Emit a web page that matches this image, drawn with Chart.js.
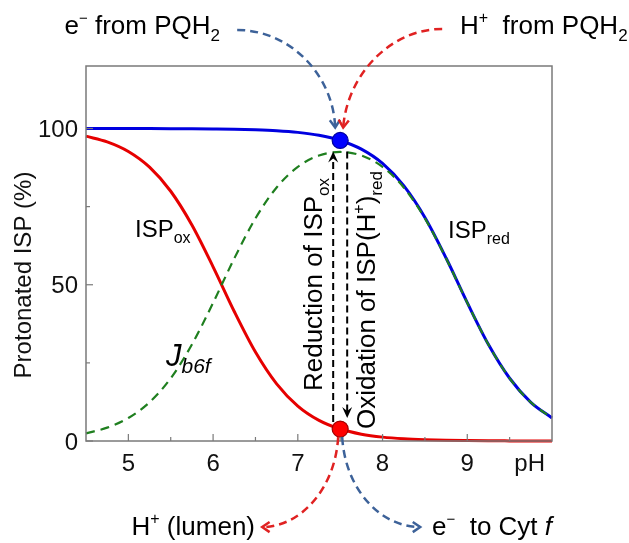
<!DOCTYPE html>
<html>
<head>
<meta charset="utf-8">
<script src="https://cdn.jsdelivr.net/npm/chart.js@4.4.0/dist/chart.umd.min.js"></script>
<style>
  html, body { margin: 0; padding: 0; background: #ffffff; }
  #wrap { width: 629px; height: 543px; }
</style>
</head>
<body>
<div id="wrap"><canvas id="c" width="629" height="543"></canvas></div>
<script>
// ---- data ----
const pH = [4.5, 4.75, 5.0, 5.25, 5.5, 5.75, 6.0, 6.25, 6.5, 6.75, 7.0, 7.25, 7.5, 7.75, 8.0, 8.25, 8.5, 8.75, 9.0, 9.25, 9.5, 9.75, 10.0];
const ispOx = [97.55, 95.72, 92.64, 87.62, 79.92, 69.12, 55.73, 41.45, 28.47, 18.29, 11.18, 6.61, 3.83, 2.19, 1.24, 0.70, 0.40, 0.22, 0.13, 0.07, 0.04, 0.02, 0.01];
const ispRed = [100.0, 99.99, 99.99, 99.98, 99.96, 99.93, 99.87, 99.78, 99.60, 99.30, 98.76, 97.81, 96.17, 93.39, 88.82, 81.70, 71.53, 58.55, 44.27, 30.88, 20.08, 12.38, 7.36];
const jb6f = [2.45, 4.28, 7.36, 12.38, 20.07, 30.86, 44.21, 58.42, 71.24, 81.14, 87.72, 91.35, 92.49, 91.35, 87.72, 81.13, 71.24, 58.42, 44.21, 30.86, 20.07, 12.38, 7.36];
const dotPH = [7.5];
const dotBlueVal = [96.17];
const dotRedVal = [3.83];
const xMajorTicks = [5, 6, 7, 8, 9];
const xMinorTicks = [5.5, 6.5, 7.5, 8.5, 9.5];
const yMajorTicks = [0, 50, 100];
const yMinorTicks = [25, 75];

const FAM = '"Liberation Sans", Arial, Helvetica, sans-serif';

function pts(xs, ys) { return xs.map((v, i) => ({ x: v, y: ys[i] })); }

function fontOf(s) { return (s.st || '') + ' ' + s.f + 'px ' + FAM; }
function drawRich(ctx, segs, x, y, align) {
  let w = 0;
  segs.forEach(s => { ctx.font = fontOf(s); s.w = ctx.measureText(s.t).width; w += s.w; });
  let cx = align === 'center' ? x - w / 2 : (align === 'right' ? x - w : x);
  ctx.textAlign = 'left';
  segs.forEach(s => { ctx.font = fontOf(s); ctx.fillText(s.t, cx, y + (s.dy || 0)); cx += s.w; });
}
function bez(ctx, p0, c1, c2, p3, color) {
  ctx.save();
  ctx.strokeStyle = color; ctx.lineWidth = 2.5; ctx.setLineDash([8, 5]);
  ctx.beginPath(); ctx.moveTo(p0[0], p0[1]);
  ctx.bezierCurveTo(c1[0], c1[1], c2[0], c2[1], p3[0], p3[1]);
  ctx.stroke();
  ctx.setLineDash([]);
  const ang = Math.atan2(p3[1] - c2[1], p3[0] - c2[0]);
  const L = 9, sp = 0.6;
  ctx.beginPath();
  ctx.moveTo(p3[0] - L * Math.cos(ang - sp), p3[1] - L * Math.sin(ang - sp));
  ctx.lineTo(p3[0], p3[1]);
  ctx.lineTo(p3[0] - L * Math.cos(ang + sp), p3[1] - L * Math.sin(ang + sp));
  ctx.stroke();
  ctx.restore();
}
function vArrow(ctx, x, y0, y1) {
  const dir = y1 > y0 ? 1 : -1;
  ctx.save();
  ctx.strokeStyle = '#000'; ctx.fillStyle = '#000'; ctx.lineWidth = 2;
  ctx.setLineDash([7, 4]);
  ctx.beginPath(); ctx.moveTo(x, y0); ctx.lineTo(x, y1 - dir * 6); ctx.stroke();
  ctx.setLineDash([]);
  ctx.beginPath();
  ctx.moveTo(x, y1);
  ctx.lineTo(x - 5, y1 - dir * 11);
  ctx.lineTo(x, y1 - dir * 7);
  ctx.lineTo(x + 5, y1 - dir * 11);
  ctx.closePath(); ctx.fill();
  ctx.restore();
}

const decor = {
  id: 'decor',
  afterDraw(chart) {
    const { ctx, chartArea: a, scales: { x, y } } = chart;
    ctx.save();
    ctx.strokeStyle = '#7a7a7a'; ctx.lineWidth = 1.5;
    ctx.strokeRect(a.left, a.top, a.right - a.left, a.bottom - a.top);
    ctx.lineWidth = 1.2;
    const ln = (x0, y0, x1, y1) => { ctx.beginPath(); ctx.moveTo(x0, y0); ctx.lineTo(x1, y1); ctx.stroke(); };
    xMajorTicks.forEach(v => { const p = x.getPixelForValue(v); ln(p, a.bottom, p, a.bottom - 7); });
    xMinorTicks.forEach(v => { const p = x.getPixelForValue(v); ln(p, a.bottom, p, a.bottom - 4); });
    yMajorTicks.forEach(v => { const p = y.getPixelForValue(v); ln(a.left, p, a.left + 7, p); });
    yMinorTicks.forEach(v => { const p = y.getPixelForValue(v); ln(a.left, p, a.left + 4, p); });
    ctx.fillStyle = '#111';
    ctx.font = '24px ' + FAM;
    ctx.textBaseline = 'alphabetic';
    ctx.textAlign = 'center';
    xMajorTicks.forEach(v => ctx.fillText(String(v), x.getPixelForValue(v), a.bottom + 30));
    ctx.textAlign = 'right';
    ctx.fillText('pH', a.right - 7, a.bottom + 30);
    yMajorTicks.forEach(v => ctx.fillText(String(v), a.left - 8, y.getPixelForValue(v) + 8.5));
    ctx.save();
    ctx.translate(24, 275); ctx.rotate(-Math.PI / 2);
    ctx.textAlign = 'center'; ctx.textBaseline = 'middle';
    ctx.font = '24px ' + FAM;
    ctx.fillText('Protonated ISP (%)', 0, 0);
    ctx.restore();

    ctx.textBaseline = 'alphabetic';
    ctx.fillStyle = '#000';
    drawRich(ctx, [{ t: 'ISP', f: 24 }, { t: 'ox', f: 16, dy: 6 }], 135, 237, 'left');
    drawRich(ctx, [{ t: 'ISP', f: 24 }, { t: 'red', f: 16, dy: 6 }], 448, 238, 'left');
    drawRich(ctx, [{ t: 'J', f: 31, st: 'italic' }, { t: 'b6f', f: 21, dy: 7, st: 'italic' }], 166, 366, 'left');

    const bx = x.getPixelForValue(dotPH[0]);
    const byB = y.getPixelForValue(dotBlueVal[0]);
    const byR = y.getPixelForValue(dotRedVal[0]);

    vArrow(ctx, bx - 7, byR - 7, byB + 11);
    vArrow(ctx, bx + 7, byB + 11, byR - 11);

    ctx.save();
    ctx.translate(bx - 18, 284.5); ctx.rotate(-Math.PI / 2);
    drawRich(ctx, [{ t: 'Reduction of ISP', f: 26 }, { t: 'ox', f: 17, dy: 7 }], 0, 0, 'center');
    ctx.restore();
    ctx.save();
    ctx.translate(bx + 35, 300); ctx.rotate(-Math.PI / 2);
    drawRich(ctx, [{ t: 'Oxidation of ISP(H', f: 26 }, { t: '+', f: 16, dy: -11 }, { t: ')', f: 26 }, { t: 'red', f: 17, dy: 7 }], 0, 0, 'center');
    ctx.restore();

    bez(ctx, [bx - 103, a.top - 36], [bx - 50, a.top - 36], [bx - 7, a.top + 9], [bx - 5, byB - 13], '#3d6299');
    bez(ctx, [bx + 102, a.top - 37], [bx + 50, a.top - 37], [bx + 7, a.top + 9], [bx + 3, byB - 13], '#e02222');
    bez(ctx, [bx - 2, byR + 8], [bx - 5, byR + 60], [bx - 40, byR + 98], [bx - 78, byR + 98], '#e02222');
    bez(ctx, [bx + 2, byR + 8], [bx + 5, byR + 60], [bx + 40, byR + 98], [bx + 80, byR + 98], '#3d6299');

    ctx.fillStyle = '#000';
    drawRich(ctx, [{ t: 'e', f: 26 }, { t: '\u2212', f: 15, dy: -11 }, { t: ' from PQH', f: 26 }, { t: '2', f: 17, dy: 7 }], 220, 34, 'right');
    drawRich(ctx, [{ t: 'H', f: 26 }, { t: '+', f: 16, dy: -11 }, { t: '  from PQH', f: 26 }, { t: '2', f: 17, dy: 7 }], 460, 34, 'left');
    drawRich(ctx, [{ t: 'H', f: 26 }, { t: '+', f: 16, dy: -11 }, { t: ' (lumen)', f: 26 }], 255, 535, 'right');
    drawRich(ctx, [{ t: 'e', f: 26 }, { t: '\u2212', f: 15, dy: -11 }, { t: '  to Cyt ', f: 26 }, { t: 'f', f: 26, st: 'italic' }], 432, 535, 'left');
    ctx.restore();
  }
};

new Chart(document.getElementById('c'), {
  type: 'line',
  data: {
    datasets: [
      { label: 'blueDot', data: pts(dotPH, dotBlueVal), showLine: false, pointRadius: 8, pointBackgroundColor: '#0000ff', pointBorderColor: '#00009a', pointBorderWidth: 1.2, clip: false },
      { label: 'redDot', data: pts(dotPH, dotRedVal), showLine: false, pointRadius: 8, pointBackgroundColor: '#ff0000', pointBorderColor: '#a00000', pointBorderWidth: 1.2, clip: false },
      { label: 'Jb6f', data: pts(pH, jb6f), borderColor: '#1f7f1f', borderWidth: 2.2, borderDash: [9, 6], pointRadius: 0, cubicInterpolationMode: 'monotone', fill: false, clip: false },
      { label: 'ISPox', data: pts(pH, ispOx), borderColor: '#e60000', borderWidth: 3, pointRadius: 0, cubicInterpolationMode: 'monotone', fill: false, clip: false },
      { label: 'ISPred', data: pts(pH, ispRed), borderColor: '#0000e0', borderWidth: 3, pointRadius: 0, cubicInterpolationMode: 'monotone', fill: false, clip: false }
    ]
  },
  options: {
    responsive: false,
    animation: false,
    layout: { padding: { left: 86, right: 77, top: 66, bottom: 102 } },
    plugins: { legend: { display: false }, tooltip: { enabled: false } },
    scales: {
      x: { type: 'linear', min: 4.5, max: 10, display: false },
      y: { type: 'linear', min: 0, max: 120, display: false }
    }
  },
  plugins: [decor]
});
</script>
</body>
</html>
